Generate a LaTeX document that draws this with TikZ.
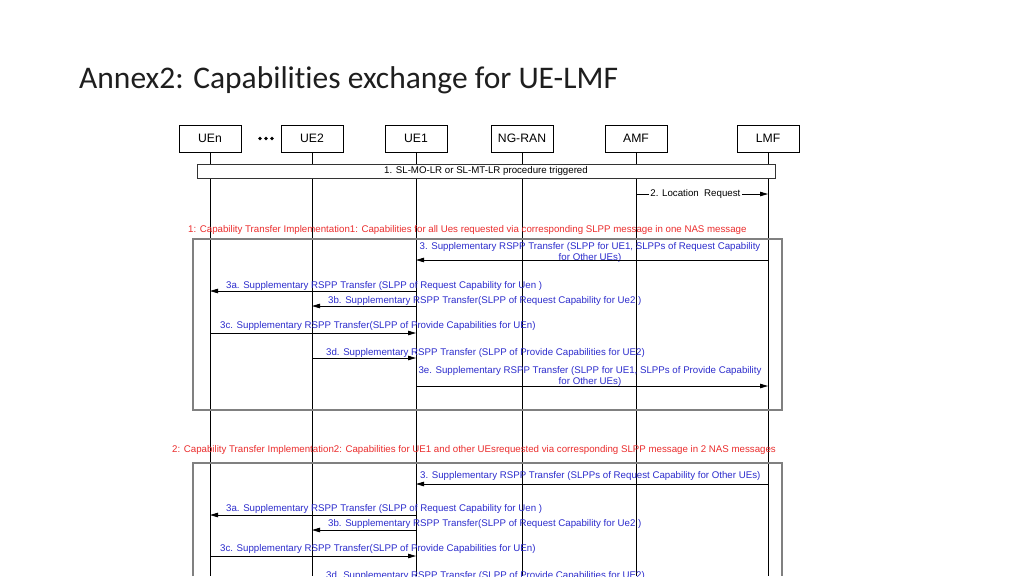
\documentclass[tikz,border=0pt]{standalone}
\usepackage{fontspec}
\setmainfont{Liberation Sans}
\newfontfamily\titlefont[Ligatures=NoCommon]{Carlito}
\usetikzlibrary{arrows.meta}
\definecolor{msgblue}{RGB}{45,45,205}
\definecolor{redtxt}{RGB}{235,45,45}
\definecolor{framegray}{RGB}{128,128,128}
\definecolor{titlegray}{RGB}{30,30,30}
\begin{document}
\begin{tikzpicture}[x=1pt,y=-1pt,
  hdr/.style={draw=black, line width=0.7pt, minimum width=62pt, minimum height=27pt, inner sep=0pt, font=\fontsize{12.2}{14}\selectfont},
  life/.style={line width=0.8pt, black},
  msg/.style={line width=0.8pt, black, -{Triangle[length=8pt,width=4.5pt]}},
  lbl/.style={text=msgblue, inner sep=0pt, font=\fontsize{9.7}{10.2}\selectfont},
  redlbl/.style={text=redtxt, inner sep=0pt, font=\fontsize{9.7}{10.2}\selectfont},
  frame/.style={draw=framegray, line width=1.2pt}
]
\useasboundingbox[fill=white] (0,0) rectangle (1024,576);

% title
\node[anchor=base west, inner sep=0pt, text=titlegray, font=\titlefont\fontsize{31.5}{36}\selectfont] (title) at (79,88) {Annex2: Capabilities exchange for UE-LMF};

% headers
\node[hdr] (uen) at (210,138.5) {UEn};
\node[hdr] (ue2) at (312,138.5) {UE2};
\node[hdr] (ue1) at (416,138.5) {UE1};
\node[hdr] (ngran) at (522,138.5) {NG-RAN};
\node[hdr] (amf) at (636,138.5) {AMF};
\node[hdr] (lmf) at (768,138.5) {LMF};
\foreach \x in {260,266,272} \fill (\x,138.5) circle (1.8pt);

\coordinate (bot) at (0,576);
\foreach \n in {uen,ue2,ue1,ngran,amf,lmf}
  \draw[life] (\n.south) -- (\n.south |- bot);

% step 1
\node[draw=black!80, line width=0.6pt, fill=white, minimum width=578pt, minimum height=14pt, inner sep=0pt, font=\fontsize{9.7}{10}\selectfont] (s1) at (486,171) {1. SL-MO-LR or SL-MT-LR procedure triggered};

% step 2
\coordinate (y2) at (0,194);
\draw[msg] (amf |- y2) -- (lmf |- y2) node[pos=0.45, fill=white, inner xsep=1.5pt, inner ysep=0pt, font=\fontsize{9.7}{10}\selectfont] {2. Location\ \ Request};

% implementation 1
\node[redlbl, anchor=base west] (r1) at (188,232) {1: Capability Transfer Implementation1: Capabilities for all Ues requested via corresponding SLPP message in one NAS message};
\node[frame, minimum width=589pt, minimum height=171pt, inner sep=0pt] (f1) at (487.5,324.5) {};

\node[lbl, align=center] (t3) at (590,252.5) {3. Supplementary RSPP Transfer (SLPP for UE1, SLPPs of Request Capability\\for Other UEs)};
\coordinate (a3) at (0,260);
\draw[msg] (lmf |- a3) -- (ue1 |- a3);

\node[lbl, anchor=base west] (t3a) at (226,288.5) {3a. Supplementary RSPP Transfer (SLPP of Request Capability for Uen )};
\coordinate (a3a) at (0,291);
\draw[msg] (ue1 |- a3a) -- (uen |- a3a);

\node[lbl, anchor=base west] (t3b) at (328,303.5) {3b. Supplementary RSPP Transfer(SLPP of Request Capability for Ue2 )};
\coordinate (a3b) at (0,306);
\draw[msg] (ue1 |- a3b) -- (ue2 |- a3b);

\node[lbl, anchor=base west] (t3c) at (220,328.5) {3c. Supplementary RSPP Transfer(SLPP of Provide Capabilities for UEn)};
\coordinate (a3c) at (0,333);
\draw[msg] (uen |- a3c) -- (ue1 |- a3c);

\node[lbl, anchor=base west] (t3d) at (326,355.5) {3d. Supplementary RSPP Transfer (SLPP of Provide Capabilities for UE2)};
\coordinate (a3d) at (0,358);
\draw[msg] (ue2 |- a3d) -- (ue1 |- a3d);

\node[lbl, align=center] (t3e) at (590,376.5) {3e. Supplementary RSPP Transfer (SLPP for UE1, SLPPs of Provide Capability\\for Other UEs)};
\coordinate (a3e) at (0,386);
\draw[msg] (ue1 |- a3e) -- (lmf |- a3e);

% implementation 2
\node[redlbl, anchor=base west] (r2) at (172,452.5) {2: Capability Transfer Implementation2: Capabilities for UE1 and other UEsrequested via corresponding SLPP message in 2 NAS messages};
\coordinate (f2bl) at (193,576);
\coordinate (f2tr) at (782,463);
\coordinate (f2br) at (782,576);
\draw[frame] (f2bl) |- (f2tr) -- (f2br);

\node[lbl, anchor=base west] (u3) at (420,478.5) {3. Supplementary RSPP Transfer (SLPPs of Request Capability for Other UEs)};
\coordinate (b3) at (0,484);
\draw[msg] (lmf |- b3) -- (ue1 |- b3);

\node[lbl, anchor=base west] (u3a) at (226,511.5) {3a. Supplementary RSPP Transfer (SLPP of Request Capability for Uen )};
\coordinate (b3a) at (0,515);
\draw[msg] (ue1 |- b3a) -- (uen |- b3a);

\node[lbl, anchor=base west] (u3b) at (328,526.5) {3b. Supplementary RSPP Transfer(SLPP of Request Capability for Ue2 )};
\coordinate (b3b) at (0,530);
\draw[msg] (ue1 |- b3b) -- (ue2 |- b3b);

\node[lbl, anchor=base west] (u3c) at (220,551.5) {3c. Supplementary RSPP Transfer(SLPP of Provide Capabilities for UEn)};
\coordinate (b3c) at (0,556);
\draw[msg] (uen |- b3c) -- (ue1 |- b3c);

\node[lbl, anchor=base west] (u3d) at (326,578) {3d. Supplementary RSPP Transfer (SLPP of Provide Capabilities for UE2)};
\end{tikzpicture}
\end{document}
